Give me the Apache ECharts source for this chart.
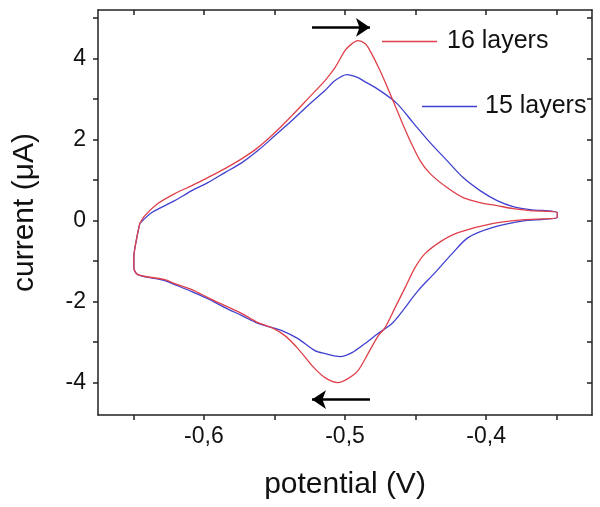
<!DOCTYPE html>
<html>
<head>
<meta charset="utf-8">
<script src="https://cdn.jsdelivr.net/npm/echarts@6/dist/echarts.min.js"></script>
<style>
html,body{margin:0;padding:0;background:#fff;}
#chart{width:600px;height:507px;}
</style>
</head>
<body>
<div id="chart"></div>
<script>
// potential (V), current (µA) — loop traced in scan order
const red16 = [
  [-0.6454,-0.074],[-0.6418,0.123],[-0.6326,0.42],[-0.6206,0.667],[-0.6085,0.864],[-0.5972,1.062],
  [-0.5851,1.284],[-0.5730,1.531],[-0.5617,1.802],[-0.5496,2.173],[-0.5376,2.593],[-0.5262,3.012],
  [-0.5142,3.457],[-0.5071,3.778],[-0.5000,4.198],[-0.4950,4.370],[-0.4908,4.444],[-0.4858,4.370],
  [-0.4823,4.198],[-0.4752,3.704],[-0.4681,3.136],[-0.4610,2.543],[-0.4539,1.975],[-0.4468,1.481],
  [-0.4397,1.160],[-0.4277,0.815],[-0.4163,0.568],[-0.4043,0.444],[-0.3922,0.370],[-0.3809,0.296],
  [-0.3688,0.247],[-0.3496,0.198],
  [-0.3496,0.074],[-0.3723,0.025],[-0.3957,-0.074],[-0.4199,-0.296],[-0.4312,-0.494],[-0.4433,-0.815],
  [-0.4504,-1.160],[-0.4574,-1.654],[-0.4645,-2.148],[-0.4716,-2.642],[-0.4766,-2.850],[-0.4837,-3.284],
  [-0.4908,-3.704],[-0.4979,-3.901],[-0.5050,-4.000],[-0.5142,-3.877],[-0.5234,-3.580],[-0.5333,-3.160],
  [-0.5426,-2.840],[-0.5518,-2.642],[-0.5617,-2.519],[-0.5730,-2.296],[-0.5851,-2.099],[-0.5972,-1.901],
  [-0.6085,-1.704],[-0.6206,-1.556],[-0.6277,-1.457],[-0.6468,-1.333],[-0.6496,-1.160],[-0.6496,-0.914],
  [-0.6475,-0.420],[-0.6454,-0.074]
];
const blue15 = [
  [-0.6454,-0.074],[-0.6369,0.198],[-0.6206,0.494],[-0.6085,0.741],[-0.5972,0.938],[-0.5851,1.185],
  [-0.5730,1.432],[-0.5617,1.728],[-0.5496,2.099],[-0.5376,2.469],[-0.5262,2.840],[-0.5142,3.210],
  [-0.5071,3.457],[-0.4986,3.605],[-0.4908,3.531],[-0.4872,3.457],[-0.4752,3.210],[-0.4631,2.889],
  [-0.4518,2.420],[-0.4397,1.926],[-0.4277,1.481],[-0.4163,1.062],[-0.4043,0.741],[-0.3922,0.494],
  [-0.3809,0.346],[-0.3688,0.272],[-0.3496,0.198],
  [-0.3496,0.074],[-0.3723,0.000],[-0.3957,-0.173],[-0.4128,-0.420],[-0.4241,-0.815],[-0.4362,-1.284],
  [-0.4482,-1.728],[-0.4574,-2.148],[-0.4667,-2.543],[-0.4766,-2.790],[-0.4858,-3.037],[-0.4950,-3.259],
  [-0.5035,-3.358],[-0.5142,-3.284],[-0.5213,-3.210],[-0.5333,-2.914],[-0.5447,-2.716],[-0.5518,-2.642],
  [-0.5617,-2.540],[-0.5730,-2.346],[-0.5851,-2.148],[-0.5972,-1.926],[-0.6085,-1.753],[-0.6206,-1.580],
  [-0.6277,-1.481],[-0.6468,-1.333],[-0.6496,-1.160],[-0.6496,-0.914],[-0.6475,-0.420],[-0.6454,-0.074]
];
const seriesNames = ['16 layers', '15 layers'];
const xTicks = [-0.65,-0.6,-0.55,-0.5,-0.45,-0.4,-0.35];
const xLabels = [-0.6,-0.5,-0.4];
const yTicks = [-4,-3,-2,-1,0,1,2,3,4,5];
const yLabels = [-4,-2,0,2,4];
// scan-direction arrows: [x0, x1, y]
const arrowForward = [-0.5234, -0.4823, 4.77];
const arrowBackward = [-0.4823, -0.5234, -4.42];

const FONT = '"Liberation Sans", Arial, sans-serif';
const AX = '#222';
const chart = echarts.init(document.getElementById('chart'), null, {renderer:'canvas'});

function xAxisDef(pos, show) {
  return {
    type:'value', position:pos, min:-0.675, max:-0.325,
    axisLine:{show:true, onZero:false, lineStyle:{color:AX, width:1.5}},
    axisTick:{show:true, inside:!show, length:5, customValues:xTicks, lineStyle:{color:AX, width:1.5}},
    axisLabel:{show:show, customValues:xLabels, margin:10, fontSize:23, fontFamily:FONT, color:'#111',
      formatter:v => String(Math.round(v*10)/10).replace('.', ',')},
    splitLine:{show:false},
    name: show ? 'potential (V)' : '', nameLocation:'middle', nameGap:55,
    nameTextStyle:{fontSize:30, fontFamily:FONT, color:'#111'}
  };
}
function yAxisDef(pos, show) {
  return {
    type:'value', position:pos, min:-4.8, max:5.2,
    axisLine:{show:true, onZero:false, lineStyle:{color:AX, width:1.5}},
    axisTick:{show:true, inside:!show, length:5, customValues:yTicks, lineStyle:{color:AX, width:1.5}},
    axisLabel:{show:show, customValues:yLabels, margin:12, fontSize:23, fontFamily:FONT, color:'#111'},
    splitLine:{show:false},
    name: show ? 'current (\u03BCA)' : '', nameLocation:'middle', nameGap:58, nameRotate:90,
    nameTextStyle:{fontSize:30, fontFamily:FONT, color:'#111'}
  };
}

function arrowLine(a) {
  return [{coord:[a[0], a[2]]}, {coord:[a[1], a[2]]}];
}

chart.setOption({
  animation:false,
  backgroundColor:'#fff',
  grid:{left:98, right:8, top:10, bottom:92, containLabel:false},
  xAxis:[xAxisDef('bottom', true), xAxisDef('top', false)],
  yAxis:[yAxisDef('left', true), yAxisDef('right', false)],
  legend:[
    {data:[seriesNames[0]], left:382, top:29, orient:'horizontal', icon:'rect', itemWidth:55, itemHeight:1.5,
     padding:0, selectedMode:false,
     textStyle:{fontSize:25, fontFamily:FONT, color:'#111', padding:[0,0,0,5]}},
    {data:[seriesNames[1]], left:422, top:94, orient:'horizontal', icon:'rect', itemWidth:55, itemHeight:1.5,
     padding:0, selectedMode:false,
     textStyle:{fontSize:25, fontFamily:FONT, color:'#111', padding:[0,0,0,3]}}
  ],
  series:[
    {name:seriesNames[1], type:'line', data:blue15, showSymbol:false, smooth:0.3,
     lineStyle:{color:'#4040d0', width:1.3}, itemStyle:{color:'#4040d0'},
     markLine:{silent:true, symbol:['none','arrow'], symbolSize:14, label:{show:false},
       lineStyle:{color:'#000', width:2.5, type:'solid'},
       data:[arrowLine(arrowForward), arrowLine(arrowBackward)]}},
    {name:seriesNames[0], type:'line', data:red16, showSymbol:false, smooth:0.3,
     lineStyle:{color:'#e0404a', width:1.3}, itemStyle:{color:'#e0404a'}}
  ]
});
</script>
</body>
</html>
